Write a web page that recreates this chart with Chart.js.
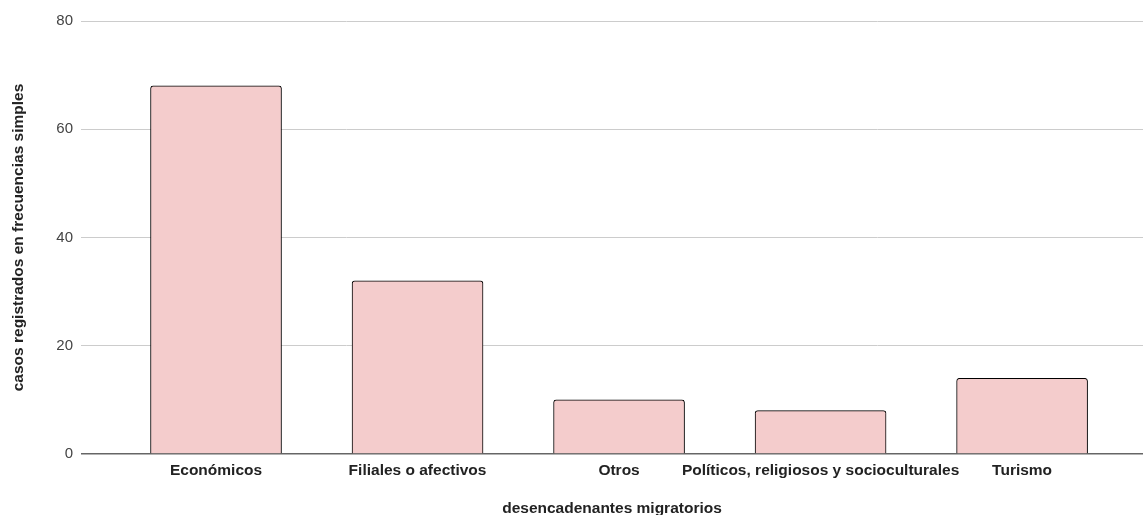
<!DOCTYPE html>
<html lang="es">
<head>
  <meta charset="UTF-8">
  <title>Desencadenantes migratorios</title>
  <script src="https://cdn.jsdelivr.net/npm/chart.js"></script>
  <style>
    html, body { margin: 0; padding: 0; background: #fff; }
    #wrap { width: 1143px; height: 515px; }
  </style>
</head>
<body>
  <div id="wrap"><canvas id="chart" width="1143" height="515"></canvas></div>
  <script>
    // datos
    const categorias = ['Económicos', 'Filiales o afectivos', 'Otros', 'Políticos, religiosos y socioculturales', 'Turismo'];
    const casos = [68, 32, 10, 8, 14];
    const ticksY = [0, 20, 40, 60, 80];

    const fuente = "Arial, 'Liberation Sans', sans-serif";

    new Chart(document.getElementById('chart'), {
      type: 'bar',
      data: {
        datasets: [{
          data: casos.map((v, i) => ({ x: i, y: v })),
          backgroundColor: '#f4cccc',
          borderColor: '#000',
          borderWidth: 1,
          borderRadius: { topLeft: 3, topRight: 3 },
          borderSkipped: 'bottom',
          barThickness: 131
        }]
      },
      options: {
        responsive: false,
        animation: false,
        layout: { padding: { top: 21, right: 0, left: 0, bottom: 0 } },
        plugins: { legend: { display: false }, tooltip: { enabled: false } },
        scales: {
          x: {
            type: 'linear',
            offset: false,
            min: -0.67,
            max: 4.6,
            afterBuildTicks: ax => { ax.ticks = categorias.map((_, i) => ({ value: i })); },
            afterFit: ax => { ax.height = 61; },
            grid: { display: false, drawTicks: false },
            border: { display: false },
            ticks: {
              autoSkip: false,
              maxRotation: 0,
              padding: 7,
              color: '#222',
              font: { family: fuente, size: 15.5, weight: 'bold' },
              callback: v => categorias[v]
            },
            title: {
              display: true,
              text: 'desencadenantes migratorios',
              color: '#222',
              font: { family: fuente, size: 15.5, weight: 'bold' },
              padding: { top: 0, bottom: -3 }
            }
          },
          y: {
            min: 0,
            max: 80,
            afterBuildTicks: ax => { ax.ticks = ticksY.map(v => ({ value: v })); },
            afterFit: ax => { ax.width = 81; },
            grid: {
              drawTicks: false,
              color: c => c.tick.value === 0 ? '#666' : '#ccc',
              lineWidth: c => c.tick.value === 0 ? 1.5 : 1
            },
            border: { display: false },
            ticks: {
              padding: 8,
              color: '#444',
              font: { family: fuente, size: 15 }
            },
            title: {
              display: true,
              text: 'casos registrados en frecuencias simples',
              color: '#222',
              font: { family: fuente, size: 15.5, weight: 'bold' },
              padding: { top: 9, bottom: 0 }
            }
          }
        }
      }
    });
  </script>
</body>
</html>
